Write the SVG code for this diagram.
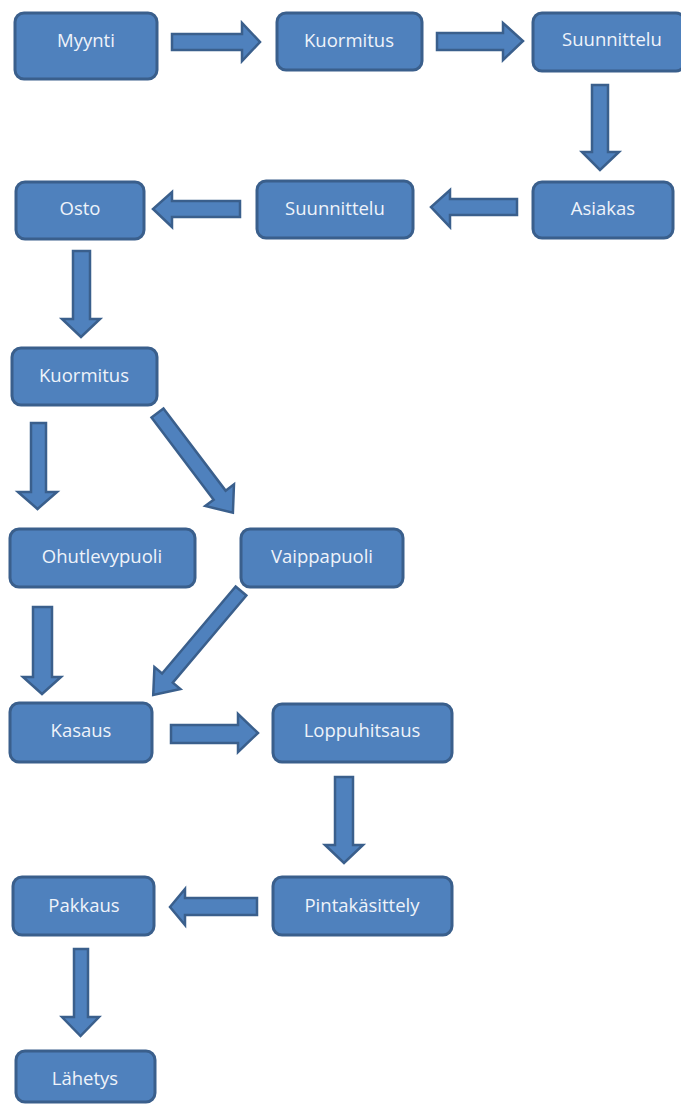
<svg xmlns="http://www.w3.org/2000/svg" width="681" height="1104" viewBox="0 0 681 1104">
<style>
.box{fill:#4f81bd;stroke:#3a5f8c;stroke-width:3}
.arr{fill:#4f81bd;stroke:#3a5f8c;stroke-width:2.5;stroke-linejoin:miter}
.lbl{font-family:"Open Sans","Liberation Sans",sans-serif;font-size:18.5px;fill:#eef3fa;text-anchor:middle}
</style>
<rect width="681" height="1104" fill="#ffffff"/>
<g id="connectors">
<polygon class="arr" points="172,34 242,34 242,23 260,42 242,61 242,50 172,50"/>
<polygon class="arr" points="437,33 503,33 503,23 523,41 503,60 503,50 437,50"/>
<polygon class="arr" points="592,85 608,85 608,152 619,152 600,170 582,152 592,152"/>
<polygon class="arr" points="517,199 517,215 450,215 450,227 431,207 450,190 450,199"/>
<polygon class="arr" points="240,201 240,217 172,217 172,227 153,209 172,192 172,201"/>
<polygon class="arr" points="73,251 90,251 90,319 100,319 81,337 62,319 73,319"/>
<polygon class="arr" points="31,423 46,423 46,492 57,492 37.5,509 18,492 31,492"/>
<polygon class="arr" transform="translate(157.5,413) rotate(52.9)" points="0,-7.5 103,-7.5 103,-18 125,0 103,18 103,7.5 0,7.5"/>
<polygon class="arr" points="33,607 52,607 52,677 61,677 42,694 23,677 33,677"/>
<polygon class="arr" transform="translate(241,591) rotate(130.2)" points="0,-7 114,-7 114,-17 136,0 114,17 114,7 0,7"/>
<polygon class="arr" points="171,725 238,725 238,714 258,733 238,752 238,743 171,743"/>
<polygon class="arr" points="335,777 353,777 353,845 363,845 344,863 325,845 335,845"/>
<polygon class="arr" points="257,898 257,915 185,915 185,925 170,907 185,889 185,898"/>
<polygon class="arr" points="74,949 88,949 88,1017 99,1017 80.5,1036 62,1017 74,1017"/>
</g>
<g id="n-myynti"><rect class="box" x="15" y="13" width="142" height="66" rx="9"/><text class="lbl" x="86" y="47">Myynti</text></g>
<g id="n-kuormitus1"><rect class="box" x="277" y="13" width="145" height="57" rx="9"/><text class="lbl" x="349" y="47">Kuormitus</text></g>
<g id="n-suunnittelu1"><rect class="box" x="533" y="13" width="152" height="58" rx="9"/><text class="lbl" x="612" y="46">Suunnittelu</text></g>
<g id="n-asiakas"><rect class="box" x="533" y="182" width="140" height="56" rx="9"/><text class="lbl" x="603" y="215">Asiakas</text></g>
<g id="n-suunnittelu2"><rect class="box" x="257" y="181" width="156" height="57" rx="9"/><text class="lbl" x="335" y="215">Suunnittelu</text></g>
<g id="n-osto"><rect class="box" x="16" y="182" width="128" height="57" rx="9"/><text class="lbl" x="80" y="215">Osto</text></g>
<g id="n-kuormitus2"><rect class="box" x="12" y="348" width="145" height="57" rx="9"/><text class="lbl" x="84" y="382">Kuormitus</text></g>
<g id="n-ohutlevypuoli"><rect class="box" x="10" y="529" width="185" height="58" rx="9"/><text class="lbl" x="102" y="563">Ohutlevypuoli</text></g>
<g id="n-vaippapuoli"><rect class="box" x="241" y="529" width="162" height="58" rx="9"/><text class="lbl" x="322" y="563">Vaippapuoli</text></g>
<g id="n-kasaus"><rect class="box" x="10" y="703" width="142" height="59" rx="9"/><text class="lbl" x="81" y="737">Kasaus</text></g>
<g id="n-loppuhitsaus"><rect class="box" x="273" y="704" width="179" height="58" rx="9"/><text class="lbl" x="362" y="737">Loppuhitsaus</text></g>
<g id="n-pintakasittely"><rect class="box" x="273" y="877" width="179" height="58" rx="9"/><text class="lbl" x="362" y="912">Pintakäsittely</text></g>
<g id="n-pakkaus"><rect class="box" x="13" y="877" width="141" height="58" rx="9"/><text class="lbl" x="84" y="912">Pakkaus</text></g>
<g id="n-lahetys"><rect class="box" x="16" y="1051" width="139" height="51" rx="9"/><text class="lbl" x="85" y="1085">Lähetys</text></g>
</svg>
